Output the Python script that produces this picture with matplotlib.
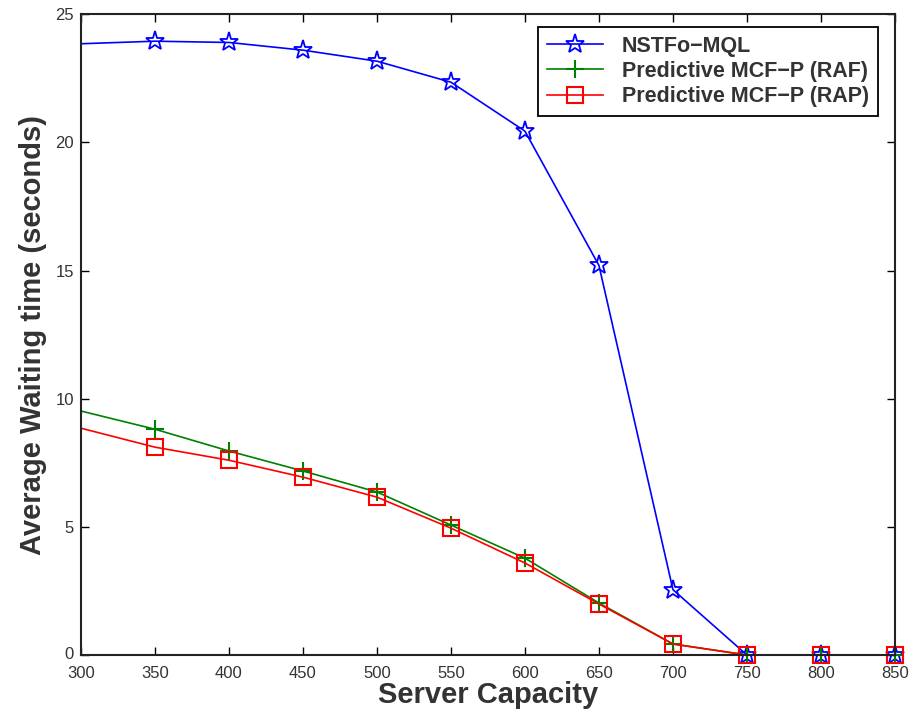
import matplotlib.pyplot as plt
from matplotlib.transforms import offset_copy

# Server capacity values (x axis)
capacity = [300, 350, 400, 450, 500, 550, 600, 650, 700, 750, 800, 850]

# Average waiting time for each policy
nstfo_mql = [23.85, 23.95, 23.9, 23.6, 23.17, 22.35, 20.44, 15.2, 2.55, 0, 0, 0]
mcfp_raf = [9.52, 8.81, 7.96, 7.18, 6.36, 5.07, 3.78, 2.03, 0.43, 0, 0, 0]
mcfp_rap = [8.85, 8.11, 7.6, 6.94, 6.16, 4.95, 3.59, 1.99, 0.43, 0, 0, 0]

plt.rcParams['font.family'] = ['Liberation Sans', 'DejaVu Sans']

fig = plt.figure(figsize=(9.16, 7.14), dpi=100)
ax = fig.add_axes([0.0884, 0.0826, 0.8886, 0.8974])

# first point has no marker in the original
marks = list(range(1, len(capacity)))
ax.plot(capacity, nstfo_mql, color='#0000ff', lw=1.2, marker='*', ms=14,
        mfc='none', mec='#0000ff', mew=1.3, markevery=marks, clip_on=False,
        label='NSTFo\u2212MQL')
ax.plot(capacity, mcfp_raf, color='#008000', lw=1.2, marker='+', ms=13,
        mew=1.5, markevery=marks, clip_on=False, label='Predictive MCF\u2212P (RAF)')
ax.plot(capacity, mcfp_rap, color='#ff0000', lw=1.2, marker='s', ms=11,
        mfc='none', mec='#ff0000', mew=1.5, markevery=marks, clip_on=False,
        label='Predictive MCF\u2212P (RAP)')

ax.set_xlim(300, 850)
ax.set_ylim(0, 25)
ax.set_xticks(capacity)
ax.set_yticks([0, 5, 10, 15, 20, 25])
ax.tick_params(direction='in', top=True, right=True, length=6, width=1,
               labelsize=12, labelcolor='#333333')
ax.tick_params(axis='x', pad=8)
ax.tick_params(axis='y', pad=5)
for s in ax.spines.values():
    s.set_linewidth(1.5)
    s.set_color('#222222')

# the "0" label sits a little higher so it clears the "300" below it
fig.canvas.draw()
zero = ax.get_yticklabels()[0]
zero.set_verticalalignment('bottom')
zero.set_transform(offset_copy(zero.get_transform(), fig=fig, y=-7, units='dots'))

ax.set_xlabel('Server Capacity', fontsize=21, fontweight='bold', color='#333333', labelpad=0)
ax.set_ylabel('Average Waiting time (seconds)', fontsize=21, fontweight='bold', color='#333333', labelpad=6)

leg = ax.legend(loc='upper right', bbox_to_anchor=(0.979, 0.980), borderaxespad=0,
                fancybox=False, edgecolor='black', framealpha=1, borderpad=0.4,
                labelspacing=0.2, handlelength=2.6, handletextpad=0.9,
                prop={'weight': 'bold', 'size': 15.5})
leg.get_frame().set_linewidth(1.3)
for t in leg.get_texts():
    t.set_color('#333333')

fig.savefig('out.png', dpi=100)
